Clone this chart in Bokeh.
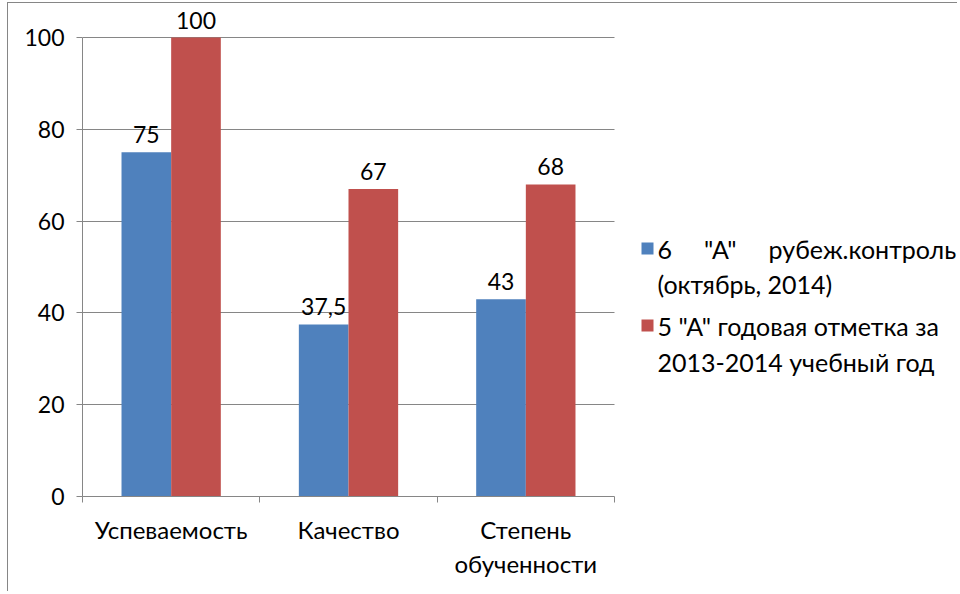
from bokeh.plotting import figure
from bokeh.models import (ColumnDataSource, Range1d, FixedTicker, LabelSet, Label, BoxAnnotation)
from bokeh.core.properties import value
from bokeh.transform import dodge
from bokeh.embed import file_html
from bokeh.resources import INLINE

categories = ["Успеваемость", "Качество", "Степень\nобученности"]
series_lines = [["6" + "\u00a0" * 5 + "\"А\"" + "\u00a0" * 5 + "рубеж.контроль", "(октябрь, 2014)"],
                ["5 \"А\" годовая отметка за", "2013-2014 учебный год"]]
values_6a = [75, 37.5, 43]
values_5a = [100, 67, 68]
labels_6a = ["75", "37,5", "43"]
labels_5a = ["100", "67", "68"]
y_ticks = [0, 20, 40, 60, 80, 100]

BLUE = "#4F81BD"
RED = "#C0504D"
GRAY = "#868686"
FONT = "Lato"
FS = "23px"
FS_CAT = "24px"
FS_LEG = "25px"

W, H = 950, 589
LEFT, BOTTOM = 74, 96
CAT_PX = 532                      # pixel width of the category area
PX_PER_UNIT = 4.59                # pixels per y unit
frame_w = W - LEFT
frame_h = H - BOTTOM
x_end = len(categories) * frame_w / CAT_PX
y_end = frame_h / PX_PER_UNIT

centers = [i + 0.5 for i in range(len(categories))]
src = ColumnDataSource(dict(x=centers, v1=values_6a, v2=values_5a, l1=labels_6a, l2=labels_5a))

p = figure(width=W, height=H, output_backend="svg", toolbar_location=None,
           x_range=Range1d(0, x_end), y_range=Range1d(0, y_end),
           min_border_left=LEFT, min_border_right=0, min_border_top=0, min_border_bottom=BOTTOM)
p.margin = (2, 0, 0, 7)
p.styles = {"border-left": f"1px solid {GRAY}", "border-top": f"1px solid {GRAY}"}
p.outline_line_color = None
p.background_fill_color = "white"
p.border_fill_color = "white"

bw = 0.28
r1 = p.vbar(x=dodge("x", -bw / 2, range=p.x_range), top="v1", width=bw, bottom=0,
            source=src, fill_color=BLUE, line_color=None)
r2 = p.vbar(x=dodge("x", bw / 2, range=p.x_range), top="v2", width=bw, bottom=0,
            source=src, fill_color=RED, line_color=None)

for col, lab, off in (("v1", "l1", -bw / 2), ("v2", "l2", bw / 2)):
    p.add_layout(LabelSet(x=dodge("x", off, range=p.x_range), y=col, text=lab, source=src,
                          text_align="center", text_baseline="alphabetic", y_offset=9,
                          text_font=value(FONT), text_font_size=value(FS), text_color="black"))

# y axis
p.yaxis.ticker = FixedTicker(ticks=y_ticks)
p.yaxis.bounds = (0, 100)
p.yaxis.axis_line_color = GRAY
p.yaxis.major_tick_line_color = GRAY
p.yaxis.major_tick_out = 6
p.yaxis.major_tick_in = 0
p.yaxis.minor_tick_line_color = None
p.yaxis.major_label_standoff = 12
p.yaxis.major_label_text_font = FONT
p.yaxis.major_label_text_font_size = FS
p.yaxis.major_label_text_color = "black"

# x axis
p.xaxis.ticker = FixedTicker(ticks=centers, minor_ticks=list(range(len(categories) + 1)))
p.xaxis.bounds = (0, len(categories))
p.xaxis.major_label_overrides = {c: name for c, name in zip(centers, categories)}
p.xaxis.axis_line_color = GRAY
p.xaxis.major_tick_line_color = None
p.xaxis.minor_tick_line_color = GRAY
p.xaxis.minor_tick_out = 6
p.xaxis.minor_tick_in = 0
p.xaxis.major_label_standoff = 12
p.xaxis.major_label_text_font = FONT
p.xaxis.major_label_text_font_size = FS_CAT
p.xaxis.major_label_text_color = "black"
p.xaxis.major_label_text_line_height = 1.2

p.xgrid.grid_line_color = None
p.ygrid.ticker = FixedTicker(ticks=y_ticks)
try:
    p.ygrid.cross_bounds = (0, len(categories))
    p.ygrid.grid_line_color = GRAY
except AttributeError:
    p.ygrid.grid_line_color = None
    p.segment(x0=0, x1=len(categories), y0=y_ticks, y1=y_ticks, line_color=GRAY, line_width=1)

# legend (screen units relative to the plot frame's bottom-left)
LEG_X = 559
sq_centers = [248, 171]
line_centers = [[248, 213], [171, 135]]
for color, sc, lines, lcs in zip((BLUE, RED), sq_centers, series_lines, line_centers):
    p.add_layout(BoxAnnotation(left=LEG_X, right=LEG_X + 12, bottom=sc - 6, top=sc + 6,
                               left_units="screen", right_units="screen",
                               bottom_units="screen", top_units="screen",
                               fill_color=color, fill_alpha=1, line_color=None))
    for txt, yc in zip(lines, lcs):
        p.add_layout(Label(x=LEG_X + 16, y=yc, x_units="screen", y_units="screen", text=txt,
                           text_font=FONT, text_font_size=FS_LEG, text_color="black",
                           text_baseline="middle", text_align="left"))

open("out.html", "w").write(file_html(p, INLINE))
